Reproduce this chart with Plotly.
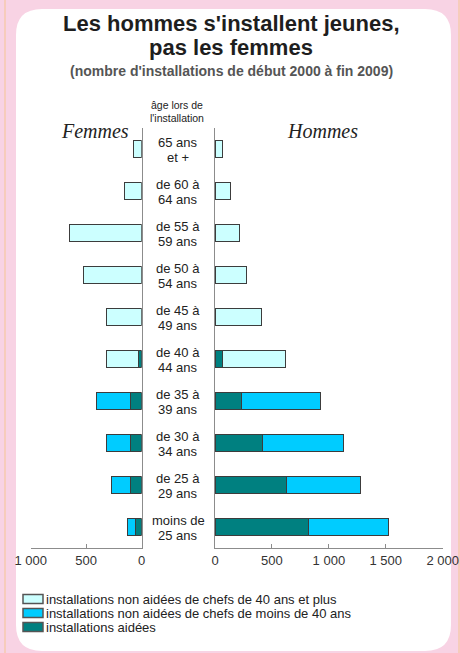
import plotly.graph_objects as go

# age groups, youngest first (bottom of the chart)
ages = ["<25", "25-29", "30-34", "35-39", "40-44", "45-49", "50-54", "55-59", "60-64", "65+"]
age_line1 = ["moins de", "de 25 à", "de 30 à", "de 35 à", "de 40 à", "de 45 à", "de 50 à", "de 55 à", "de 60 à", "65 ans"]
age_line2 = ["25 ans", "29 ans", "34 ans", "39 ans", "44 ans", "49 ans", "54 ans", "59 ans", "64 ans", "et +"]

# femmes
f_aidees = [54, 103, 103, 103, 31, None, None, None, None, None]
f_jeunes = [78, 165, 210, 302, None, None, None, None, None, None]
f_40plus = [None, None, None, None, 282, 313, 526, 652, 157, 78]

# hommes
h_aidees = [825, 632, 420, 235, 62, None, None, None, None, None]
h_jeunes = [697, 646, 705, 690, None, None, None, None, None, None]
h_40plus = [None, None, None, None, 555, 411, 279, 217, 135, 70]

series_names = [
    "installations non aidées de chefs de 40 ans et plus",
    "installations non aidées de chefs de moins de 40 ans",
    "installations aidées",
]
series_colors = ["#CCFFFF", "#00CCFF", "#008080"]

W, H = 460, 653
FONT = "Liberation Sans, Arial, sans-serif"
OUTLINE = "#3c3c3c"
AXIS = "#8c8c8c"


def fx(p):
    return p / W


def fy(p):
    return 1 - p / H


fig = go.Figure()

# stack from the centre outwards: aidées, then non aidées
left = [(f_aidees, 2), (f_jeunes, 1), (f_40plus, 0)]
right = [(h_aidees, 2), (h_jeunes, 1), (h_40plus, 0)]
for vals, k in left:
    fig.add_trace(go.Bar(y=ages, x=vals, orientation="h", xaxis="x", yaxis="y",
                         marker=dict(color=series_colors[k], line=dict(color=OUTLINE, width=1)),
                         name=series_names[k], showlegend=False))
for vals, k in right:
    fig.add_trace(go.Bar(y=ages, x=vals, orientation="h", xaxis="x2", yaxis="y2",
                         marker=dict(color=series_colors[k], line=dict(color=OUTLINE, width=1)),
                         name=series_names[k], showlegend=False))

xcommon = dict(showgrid=False, zeroline=False, showline=True, linecolor=AXIS, linewidth=1,
               ticks="inside", ticklen=4, tickcolor=AXIS, tickformat=",d", automargin=False,
               tickfont=dict(family=FONT, size=13, color="#333333"), fixedrange=True)
ycommon = dict(type="category", categoryarray=ages, range=[-0.5, 9.5], showgrid=False,
               zeroline=False, showline=True, linecolor=AXIS, linewidth=1, automargin=False,
               showticklabels=False, ticks="", domain=[fy(548), fy(128)], fixedrange=True)

# shapes: pink frame, white rounded panel, legend boxes
x0, x1, y0, y1, r = 16, 451, 9, 651, 26
panel = (f"M {fx(x0 + r)},{fy(y0)} L {fx(x1 - r)},{fy(y0)} Q {fx(x1)},{fy(y0)} {fx(x1)},{fy(y0 + r)} "
         f"L {fx(x1)},{fy(y1 - r)} Q {fx(x1)},{fy(y1)} {fx(x1 - r)},{fy(y1)} "
         f"L {fx(x0 + r)},{fy(y1)} Q {fx(x0)},{fy(y1)} {fx(x0)},{fy(y1 - r)} "
         f"L {fx(x0)},{fy(y0 + r)} Q {fx(x0)},{fy(y0)} {fx(x0 + r)},{fy(y0)} Z")
shapes = [
    dict(type="rect", xref="paper", yref="paper", x0=fx(5), x1=fx(459), y0=fy(-3), y1=fy(656),
         line=dict(color="#F5C592", width=1), fillcolor="rgba(0,0,0,0)", layer="below"),
    dict(type="path", xref="paper", yref="paper", path=panel, fillcolor="white",
         line=dict(width=0), layer="below"),
]
annotations = []
for i, (name, col) in enumerate(zip(series_names, series_colors)):
    cy = 599 + 14 * i
    shapes.append(dict(type="rect", xref="paper", yref="paper", x0=fx(23), x1=fx(43),
                       y0=fy(cy + 4.5), y1=fy(cy - 4.5), fillcolor=col,
                       line=dict(color="#555555", width=1.5)))
    annotations.append(dict(xref="paper", yref="paper", x=fx(44), y=fy(cy), text=name,
                            xanchor="left", yanchor="middle", showarrow=False,
                            font=dict(family=FONT, size=13, color="#222222")))

# centre column labels
for a, l1, l2 in zip(ages, age_line1, age_line2):
    annotations.append(dict(xref="paper", yref="y2", x=fx(178), y=a, text=l1, showarrow=False,
                            yshift=6.5, font=dict(family=FONT, size=13, color="#222222")))
    annotations.append(dict(xref="paper", yref="y2", x=fx(178), y=a, text=l2, showarrow=False,
                            yshift=-8, font=dict(family=FONT, size=13, color="#222222")))

texts = [
    ("Les hommes s'installent jeunes,", 231, 24, 22, "#1e1e1e", "bold", FONT, "normal"),
    ("pas les femmes", 231, 47, 22, "#1e1e1e", "bold", FONT, "normal"),
    ("(nombre d'installations de début 2000 à fin 2009)", 231, 71, 14, "#555555", "bold", FONT, "normal"),
    ("âge lors de", 177, 105, 10.5, "#222222", "normal", FONT, "normal"),
    ("l'installation", 177, 117.5, 10.5, "#222222", "normal", FONT, "normal"),
    ("Femmes", 95, 131, 20, "#222222", "normal", "Liberation Serif, Times New Roman, serif", "italic"),
    ("Hommes", 322, 131, 20, "#222222", "normal", "Liberation Serif, Times New Roman, serif", "italic"),
]
for t, px_, py_, size, color, weight, fam, style in texts:
    annotations.append(dict(xref="paper", yref="paper", x=fx(px_), y=fy(py_), text=t,
                            showarrow=False, xanchor="center", yanchor="middle",
                            font=dict(family=fam, size=size, color=color, weight=weight, style=style)))

fig.update_layout(
    template="none",
    width=W, height=H,
    autosize=False,
    margin=dict(l=0, r=0, t=0, b=0, pad=0, autoexpand=False),
    paper_bgcolor="#F8D3E4",
    plot_bgcolor="rgba(0,0,0,0)",
    barmode="stack",
    bargap=0.6,
    separators=", ",
    showlegend=False,
    xaxis=dict(xcommon, domain=[fx(30.7), fx(141.7)], range=[1000, 0], tickvals=[0, 500, 1000]),
    xaxis2=dict(xcommon, domain=[fx(215), fx(442.7)], range=[0, 2000],
                tickvals=[0, 500, 1000, 1500, 2000], anchor="y2"),
    yaxis=dict(ycommon, anchor="x", side="right"),
    yaxis2=dict(ycommon, anchor="x2", side="left"),
    shapes=shapes,
    annotations=annotations,
)

fig.write_html("out.html", config={"displayModeBar": False},
               post_script="document.body.style.margin='0';document.body.style.overflow='hidden';")
